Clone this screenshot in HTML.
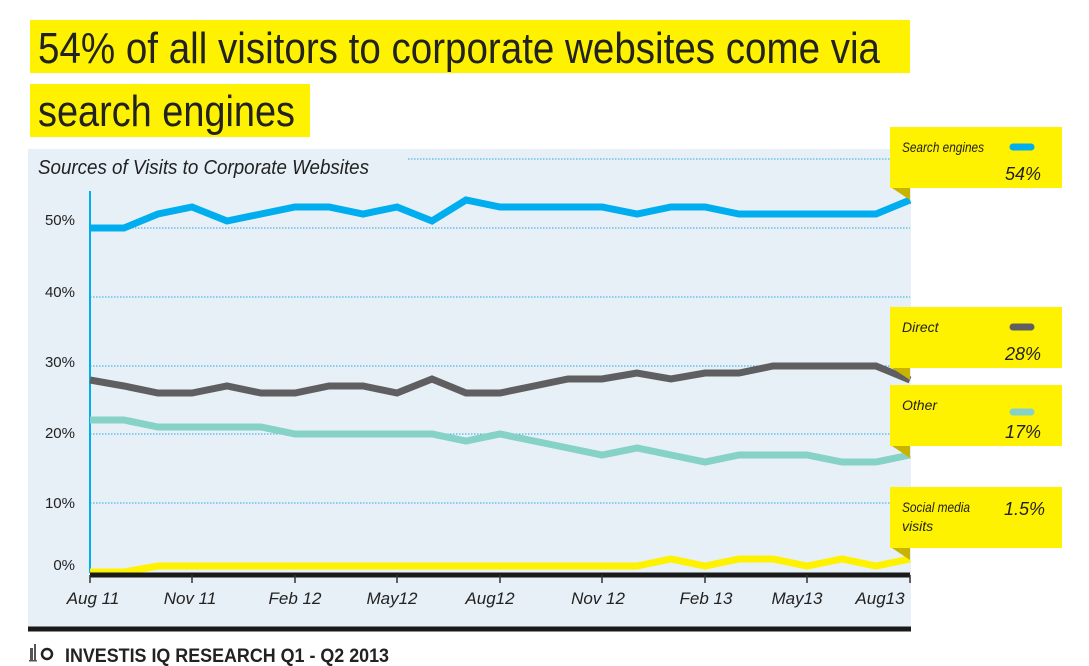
<!DOCTYPE html>
<html><head><meta charset="utf-8"><style>html,body{margin:0;padding:0;background:#fff}svg{display:block}text{font-family:"Liberation Sans",sans-serif}</style></head>
<body>
<svg width="1089" height="666" viewBox="0 0 1089 666" xmlns="http://www.w3.org/2000/svg">
<rect x="30" y="20" width="880" height="53" fill="#fff200"/>
<rect x="30" y="84" width="280" height="53" fill="#fff200"/>
<text x="38" y="63" font-size="44" fill="#222" textLength="842" lengthAdjust="spacingAndGlyphs">54% of all visitors to corporate websites come via</text>
<text x="38" y="126" font-size="44" fill="#222" textLength="257" lengthAdjust="spacingAndGlyphs">search engines</text>

<rect x="28" y="149" width="883" height="478" fill="#e7f0f7"/>
<line x1="28" y1="629" x2="911" y2="629" stroke="#1a1a1a" stroke-width="5"/>
<text x="38" y="174" font-size="20" font-style="italic" fill="#222" textLength="331" lengthAdjust="spacingAndGlyphs">Sources of Visits to Corporate Websites</text>
<line x1="408" y1="159" x2="910" y2="159" stroke="#29a8e0" stroke-width="1" stroke-dasharray="1.5,1.5"/>

<g stroke="#29a8e0" stroke-width="1" stroke-dasharray="1.5,1.5">
<line x1="90" y1="228" x2="910" y2="228"/><line x1="90" y1="297" x2="910" y2="297"/>
<line x1="90" y1="366" x2="910" y2="366"/><line x1="90" y1="434" x2="910" y2="434"/>
<line x1="90" y1="503" x2="910" y2="503"/>
</g>
<g font-size="15" fill="#222" text-anchor="end">
<text x="75" y="225">50%</text><text x="75" y="297">40%</text><text x="75" y="367">30%</text>
<text x="75" y="438">20%</text><text x="75" y="508">10%</text><text x="75" y="570">0%</text>
</g>
<line x1="90" y1="191" x2="90" y2="573" stroke="#00aeef" stroke-width="2"/>

<g fill="none" stroke-width="7" stroke-linejoin="miter">
<polyline stroke="#fff200" points="90,572 124,572 158,566 192,566 227,566 261,566 295,566 329,566 363,566 397,566 432,566 466,566 500,566 534,566 568,566 602,566 637,566 671,559 705,566 739,559 773,559 807,566 842,559 876,566 910,559"/>
<polyline stroke="#86d2c6" points="90,420 124,420 158,427 192,427 227,427 261,427 295,434 329,434 363,434 397,434 432,434 466,441 500,434 534,441 568,448 602,455 637,448 671,455 705,462 739,455 773,455 807,455 842,462 876,462 910,455"/>
<polyline stroke="#5f5f62" points="90,380 124,386 158,393 192,393 227,386 261,393 295,393 329,386 363,386 397,393 432,379 466,393 500,393 534,386 568,379 602,379 637,373 671,379 705,373 739,373 773,366 807,366 842,366 876,366 910,380"/>
<polyline stroke="#00aeef" points="90,228 124,228 158,214 192,207 227,221 261,214 295,207 329,207 363,214 397,207 432,221 466,200 500,207 534,207 568,207 602,207 637,214 671,207 705,207 739,214 773,214 807,214 842,214 876,214 910,200"/>
</g>
<line x1="90" y1="575" x2="910" y2="575" stroke="#1a1a1a" stroke-width="5"/>
<g stroke="#333" stroke-width="1.5">
<line x1="90" y1="575" x2="90" y2="583"/><line x1="192" y1="575" x2="192" y2="583"/><line x1="295" y1="575" x2="295" y2="583"/><line x1="397" y1="575" x2="397" y2="583"/><line x1="500" y1="575" x2="500" y2="583"/><line x1="602" y1="575" x2="602" y2="583"/><line x1="705" y1="575" x2="705" y2="583"/><line x1="807" y1="575" x2="807" y2="583"/><line x1="910" y1="575" x2="910" y2="583"/>
</g>
<g font-size="17" font-style="italic" fill="#222" text-anchor="middle">
<text x="93" y="604">Aug 11</text><text x="190" y="604">Nov 11</text><text x="295" y="604">Feb 12</text>
<text x="392" y="604">May12</text><text x="490" y="604">Aug12</text><text x="598" y="604">Nov 12</text>
<text x="706" y="604">Feb 13</text><text x="797" y="604">May13</text><text x="880" y="604">Aug13</text>
</g>

<g>
<rect x="890" y="127" width="172" height="61" fill="#fff200"/><polygon points="892,188 910,188 910,200" fill="#c8b400"/>
<rect x="890" y="307" width="172" height="61" fill="#fff200"/><polygon points="892,368 910,368 910,380" fill="#c8b400"/>
<rect x="890" y="385" width="172" height="61" fill="#fff200"/><polygon points="892,446 910,446 910,458" fill="#c8b400"/>
<rect x="890" y="487" width="172" height="61" fill="#fff200"/><polygon points="892,548 910,548 910,560" fill="#c8b400"/>
</g>
<g stroke-width="7" stroke-linecap="round">
<line x1="1013" y1="147" x2="1031" y2="147" stroke="#00aeef"/>
<line x1="1013" y1="327" x2="1031" y2="327" stroke="#5f5f62"/>
<line x1="1013" y1="412" x2="1031" y2="412" stroke="#86d2c6"/>
</g>
<g font-style="italic" fill="#222">
<text x="902" y="152" font-size="14" textLength="82" lengthAdjust="spacingAndGlyphs">Search engines</text>
<text x="1041" y="180" font-size="18" text-anchor="end">54%</text>
<text x="902" y="332" font-size="14">Direct</text>
<text x="1041" y="360" font-size="18" text-anchor="end">28%</text>
<text x="902" y="410" font-size="14">Other</text>
<text x="1041" y="438" font-size="18" text-anchor="end">17%</text>
<text x="902" y="512" font-size="14" textLength="68" lengthAdjust="spacingAndGlyphs">Social media</text>
<text x="902" y="531" font-size="14">visits</text>
<text x="1045" y="515" font-size="18" text-anchor="end">1.5%</text>
</g>

<g fill="#555">
<rect x="30" y="648" width="3" height="12"/><rect x="34" y="644" width="2" height="16"/><rect x="29" y="660" width="8" height="1.5"/>
</g>
<circle cx="47" cy="654" r="5" fill="none" stroke="#222" stroke-width="2.5"/>
<text x="65" y="662" font-size="19" font-weight="bold" fill="#222" textLength="324" lengthAdjust="spacingAndGlyphs">INVESTIS IQ RESEARCH Q1 - Q2 2013</text>
</svg>
</body></html>
